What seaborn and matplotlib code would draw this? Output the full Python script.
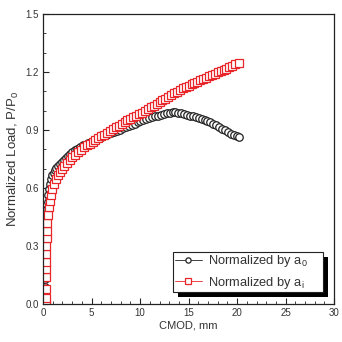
import numpy as np
import pandas as pd
import matplotlib
matplotlib.use("Agg")
import matplotlib.pyplot as plt
import seaborn as sns
from matplotlib.ticker import MultipleLocator, FormatStrFormatter
from matplotlib.patches import Rectangle

# CMOD (mm) vs normalized load
cmod_a0 = [0.15, 0.17, 0.18, 0.19, 0.2, 0.21, 0.22, 0.24, 0.26, 0.29, 0.33, 0.37, 0.42, 0.48,
           0.55, 0.63, 0.72, 0.83, 0.95, 1.08, 1.22, 1.38, 1.55, 1.73, 1.92, 2.12, 2.33, 2.55,
           2.78, 3.02, 3.27, 3.53, 3.8, 4.08, 4.36, 4.65, 4.94, 5.24, 5.54, 5.84, 6.14, 6.44,
           6.74, 7.04, 7.34, 7.64, 7.94, 8.24, 8.54, 8.84, 9.14, 9.44, 9.74, 10.04, 10.34,
           10.64, 10.94, 11.24, 11.54, 11.84, 12.14, 12.44, 12.74, 13.04, 13.34, 13.64, 13.94,
           14.24, 14.54, 14.84, 15.14, 15.44, 15.74, 16.04, 16.34, 16.64, 16.94, 17.24, 17.54,
           17.84, 18.14, 18.44, 18.74, 19.04, 19.34, 19.64, 19.94, 20.2]
load_a0 = [0.0, 0.05, 0.09, 0.13, 0.17, 0.21, 0.25, 0.29, 0.33, 0.37, 0.41, 0.45, 0.49, 0.53,
           0.565, 0.595, 0.62, 0.645, 0.665, 0.68, 0.695, 0.705, 0.715, 0.725, 0.735, 0.745,
           0.755, 0.765, 0.775, 0.785, 0.795, 0.80, 0.81, 0.82, 0.825, 0.835, 0.84, 0.85, 0.855,
           0.86, 0.87, 0.875, 0.88, 0.885, 0.89, 0.895, 0.90, 0.91, 0.915, 0.92, 0.925, 0.93,
           0.94, 0.945, 0.95, 0.955, 0.96, 0.965, 0.97, 0.975, 0.98, 0.985, 0.99, 0.99, 0.992,
           0.992, 0.99, 0.988, 0.985, 0.98, 0.975, 0.97, 0.965, 0.96, 0.955, 0.95, 0.945, 0.94,
           0.93, 0.925, 0.915, 0.905, 0.90, 0.89, 0.88, 0.875, 0.87, 0.862]

cmod_ai = [0.28, 0.29, 0.3, 0.3, 0.31, 0.32, 0.33, 0.34, 0.35, 0.37, 0.4, 0.44, 0.5, 0.58,
           0.68, 0.8, 0.95, 1.12, 1.3, 1.5, 1.72, 1.95, 2.2, 2.46, 2.73, 3.01, 3.3, 3.6, 3.9,
           4.2, 4.5, 4.8, 5.1, 5.4, 5.7, 6.0, 6.3, 6.6, 6.9, 7.2, 7.5, 7.8, 8.1, 8.4, 8.7, 9.0,
           9.3, 9.6, 9.9, 10.2, 10.5, 10.8, 11.1, 11.4, 11.7, 12.0, 12.3, 12.6, 12.9, 13.2,
           13.5, 13.8, 14.1, 14.4, 14.7, 15.0, 15.3, 15.6, 15.9, 16.2, 16.5, 16.8, 17.1, 17.4,
           17.7, 18.0, 18.3, 18.6, 18.9, 19.2, 19.5, 19.8, 20.2]
load_ai = [0.0, 0.03, 0.06, 0.10, 0.14, 0.18, 0.22, 0.26, 0.30, 0.34, 0.38, 0.42, 0.46, 0.50,
           0.535, 0.565, 0.595, 0.62, 0.645, 0.665, 0.685, 0.70, 0.715, 0.73, 0.745, 0.76,
           0.77, 0.785, 0.795, 0.81, 0.82, 0.83, 0.84, 0.85, 0.86, 0.87, 0.875, 0.885, 0.895,
           0.905, 0.915, 0.92, 0.93, 0.94, 0.95, 0.955, 0.965, 0.975, 0.985, 0.99, 1.00, 1.01,
           1.02, 1.025, 1.035, 1.045, 1.055, 1.06, 1.07, 1.08, 1.09, 1.095, 1.105, 1.115, 1.125,
           1.13, 1.137, 1.144, 1.150, 1.157, 1.164, 1.171, 1.178, 1.184, 1.191, 1.198, 1.205,
           1.212, 1.218, 1.225, 1.232, 1.239, 1.248]

df0 = pd.DataFrame({"cmod": cmod_a0, "load": load_a0})
dfi = pd.DataFrame({"cmod": cmod_ai, "load": load_ai})

sns.set_style("ticks")
plt.rcParams["font.family"] = ["Liberation Sans", "DejaVu Sans"]

fig = plt.figure(figsize=(3.42, 3.42), dpi=100)
ax = fig.add_axes([0.126, 0.111, 0.851, 0.848])

sns.lineplot(data=df0, x="cmod", y="load", ax=ax, sort=False, color="#222222", lw=0.6,
             marker="o", markersize=5.4, markerfacecolor="white", markeredgecolor="#222222",
             markeredgewidth=0.9, label=r"Normalized by a$\mathregular{_0}$")
sns.lineplot(data=dfi, x="cmod", y="load", ax=ax, sort=False, color="#e8262a", lw=0.6,
             marker="s", markersize=5.4, markerfacecolor="white", markeredgecolor="#e8262a",
             markeredgewidth=0.9, label=r"Normalized by a$\mathregular{_i}$")

ax.set_xlim(0, 30)
ax.set_ylim(0, 1.5)
ax.xaxis.set_major_locator(MultipleLocator(5))
ax.xaxis.set_minor_locator(MultipleLocator(1))
ax.yaxis.set_major_locator(MultipleLocator(0.3))
ax.yaxis.set_minor_locator(MultipleLocator(0.1))
ax.yaxis.set_major_formatter(FormatStrFormatter("%.1f"))
ax.tick_params(which="major", direction="in", length=4, width=0.8, labelsize=7,
               labelcolor="#333333", pad=3)
ax.tick_params(which="minor", direction="in", length=2, width=0.6)
for s in ax.spines.values():
    s.set_linewidth(0.9)
    s.set_color("#222222")

ax.set_xlabel("CMOD, mm", fontsize=8, color="#333333", labelpad=2)
ax.set_ylabel(r"Normalized Load, P/P$\mathregular{_0}$", fontsize=9.5, color="#333333", labelpad=3)

leg = ax.legend(loc="lower left", bbox_to_anchor=(0.447, 0.04, 0.515, 0.2), mode="expand",
                fontsize=9.3, frameon=True, fancybox=False, edgecolor="#222222",
                markerscale=0.7, handlelength=2.1, handletextpad=0.5, borderpad=0.12,
                labelspacing=0.45, borderaxespad=0)
leg.get_frame().set_linewidth(0.8)
leg.get_frame().set_alpha(1)
for t in leg.get_texts():
    t.set_color("#333333")

# offset black shadow behind the legend box
fig.canvas.draw()
bb = leg.get_window_extent()
ax.add_patch(Rectangle((bb.x0 + 5, bb.y0 - 5), bb.width, bb.height, transform=None,
                       facecolor="black", edgecolor="none", zorder=4.5, clip_on=False))

fig.savefig("out.png", dpi=100)
